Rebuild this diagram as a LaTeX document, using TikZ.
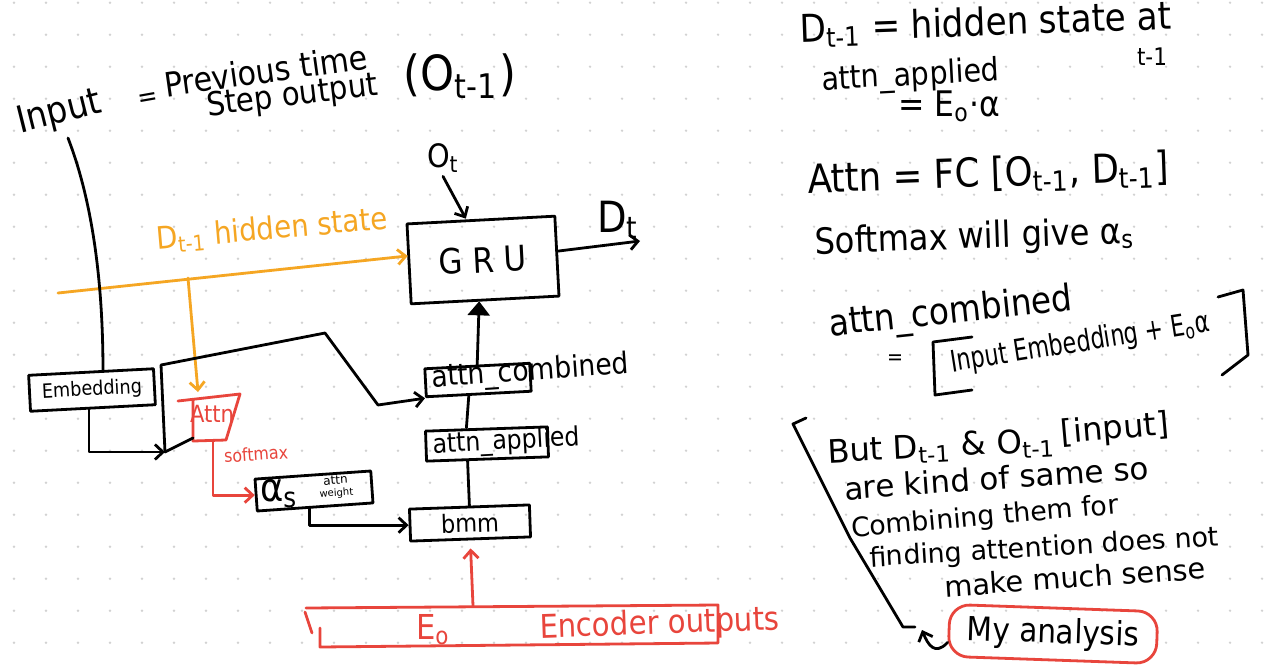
\documentclass[tikz,border=0pt]{standalone}
\usepackage{fontspec}
\setmainfont{DejaVu Sans}
\usepackage{graphicx}
\usetikzlibrary{arrows.meta,calc}
\definecolor{hred}{HTML}{E8453C}
\definecolor{horange}{HTML}{F5A623}
\definecolor{dotc}{HTML}{D2D2D2}
\newcommand\fw[2]{\resizebox{#1pt}{!}{\scalebox{1}[1.12]{#2}}}
\newcommand\fwn[2]{\resizebox{#1pt}{!}{#2}}
\newcommand\fwt[2]{\resizebox{#1pt}{!}{\scalebox{1}[1.35]{#2}}}
\tikzset{
  ink/.style={line width=2.8pt, line cap=round, line join=round},
  tip/.style={-{Straight Barb[length=8pt,width=15pt]}},
  box/.style={draw, ink, inner sep=0pt},
  txt/.style={inner sep=0pt, outer sep=0pt},
  bt/.style={txt, anchor=base west},
}
\begin{document}
\begin{tikzpicture}[x=1pt,y=-1pt]
\useasboundingbox (0,0) rectangle (1265,667);
\fill[white] (0,0) rectangle (1265,667);
\foreach \i in {0,...,39}{\foreach \j in {0,...,20}{\fill[dotc] ({14+32*\i},{2.7+32*\j}) circle (1.3pt);}}

% ---------- top-left caption ----------
\node[bt, rotate=14] (inp) at (20,133) {\fw{86}{Input}};
\node[txt, rotate=10] (eq1) at (148,100) {\fw{20}{=}};
\node[bt, rotate=8] (prev) at (166,97) {\fw{205}{Previous time}};
\node[bt, rotate=7] (stepo) at (208,116) {\fw{172}{Step output}};
\node[txt] (ot1) at (460,76) {\fw{112}{(O\textsubscript{t-1})}};

% ---------- GRU ----------
\node[box, minimum width=148pt, minimum height=80pt, rotate=3] (gru) at (483,260) {\fw{88}{G R U}};
\node[txt] (ot) at (443,158) {\fw{32}{O\textsubscript{t}}};
\node[txt] (dtl) at (618,220) {\fw{42}{D\textsubscript{t}}};
\coordinate (dtE) at (640,241);
\draw[ink, tip] ([yshift=-4pt]ot.south) -- ([xshift=-15pt]gru.north);
\draw[ink, tip] ([yshift=5pt]gru.east) -- (dtE);

% ---------- orange hidden state ----------
\node[txt, text=horange, rotate=5] (dt1) at (272,230) {\fw{232}{D\textsubscript{t-1} hidden state}};
\coordinate (orS) at (58,293);
\coordinate (orJ) at (188,278);
\coordinate (attnT) at (198,392);
\draw[ink, horange, tip] (orS) -- ([yshift=8pt]gru.west);
\draw[ink, horange, tip] (orJ) -- (attnT);

% ---------- Embedding ----------
\node[box, minimum width=125pt, minimum height=36pt, rotate=3] (emb) at (92,390) {\fw{100}{Embedding}};
\coordinate (inpB) at (68,138);
\draw[ink] (inpB) .. controls (92,200) and (103,280) .. ([xshift=12pt]emb.north);

% ---------- Attn ----------
\draw[ink, hred] (178,401) -- (240,394) -- (226,440) -- (193,441) -- (193,401);
\node[txt, text=hred] (attn) at (212,414) {\fw{44}{Attn}};
\coordinate (attnB) at (213,441);
\coordinate (attnL) at (193,438);
\node[txt, text=hred, rotate=4] (smx) at (256,454) {\fw{64}{softmax}};

% ---------- alpha ----------
\node[box, minimum width=116pt, minimum height=32pt, rotate=4] (alph) at (314,491) {};
\node[txt] (alphs) at (279,494) {\fw{38}{α\textsubscript{s}}};
\node[txt, align=center, rotate=4] (aw) at (336,487) {\fontsize{12}{11}\selectfont attn\\weight};
\draw[ink, hred, tip] (attnB) |- (alph.west);

% ---------- bmm / applied / combined ----------
\node[box, minimum width=120pt, minimum height=32pt, rotate=2] (bmm) at (470,523) {\fw{58}{bmm}};
\node[box, minimum width=122pt, minimum height=30pt, rotate=2] (appl) at (487,444) {};
\node[bt, rotate=3] (applt) at (433,453) {\fw{147}{attn\_applied}};
\node[box, minimum width=105pt, minimum height=28pt, rotate=3] (comb) at (478,380) {};
\node[bt, rotate=4] (combt) at (432,387) {\fw{198}{attn\_combined}};

\draw[ink, tip] ([xshift=-6pt]alph.south) |- (bmm.west);
\draw[ink] (bmm.north) -- ([xshift=-20pt]appl.south);
\draw[ink] ([xshift=-20pt]appl.north) -- ([xshift=-10pt]comb.south);
\draw[ink, -{Triangle[length=14pt, width=22pt]}] (comb.north) -- ([xshift=-6pt]gru.south);

% embedding -> junction -> attn / combined
\coordinate (jA) at (165,452);
\coordinate (k1) at (161,365);
\coordinate (k2) at (325,333);
\coordinate (k3) at (378,405);
\draw[ink, tip] ([xshift=-4pt]emb.south) |- (jA);
\draw[ink] (jA) -- (attnL);
\draw[ink, tip] (jA) -- (k1) -- (k2) -- (k3) -- (comb.south west);

% ---------- Encoder ----------
\node[txt, minimum width=410pt, minimum height=38pt] (enc) at (515,625) {};
\draw[ink, hred] (306,608) -- (718,605) -- (718,643) -- (320,647) -- (320,628);
\draw[ink, hred] (305,612) -- (312,633);
\node[txt, text=hred] (eo) at (433,630) {\fw{34}{E\textsubscript{o}}};
\node[bt, text=hred, rotate=2] (enct) at (540,638) {\fw{240}{Encoder outputs}};
\draw[ink, hred, tip] ([xshift=-42pt]enc.north) -- ([yshift=-8pt]bmm.south);

% ---------- right notes ----------
\node[bt, rotate=2] (r1) at (800,42) {\fw{372}{D\textsubscript{t-1} = hidden state at}};
\node[txt] (r1b) at (1152,57) {\fw{30}{t-1}};
\node[bt, rotate=3] (r2) at (822,90) {\fw{178}{attn\_applied}};
\node[bt] (r3) at (898,116) {\fw{102}{= E\textsubscript{o}·α}};
\node[bt, rotate=2] (r4) at (808,193) {\fw{362}{Attn = FC [O\textsubscript{t-1}, D\textsubscript{t-1}]}};
\node[bt, rotate=2] (r5) at (815,254) {\fw{320}{Softmax will give α\textsubscript{s}}};
\node[bt, rotate=6] (r6) at (830,336) {\fw{245}{attn\_combined}};
\node[txt] (r7eq) at (895,360) {\fw{16}{=}};
\draw[ink] (972,337) -- (933,342) -- (935,395) -- (972,390);
\draw[ink] (1218,297) -- (1243,290) -- (1248,355) -- (1222,375);
\node[bt, rotate=9] (r7) at (952,372) {\fwt{262}{Input Embedding + E\textsubscript{o}α}};

\node[bt, rotate=3] (n1) at (828,463) {\fwn{228}{But D\textsubscript{t-1} \& O\textsubscript{t-1}}};
\node[txt, rotate=5] (n1b) at (1115,430) {\fwn{108}{[input]}};
\node[bt, rotate=4] (n2) at (845,500) {\fwn{305}{are kind of same so}};
\node[bt, rotate=5] (n3) at (852,537) {\fwn{268}{Combining them for}};
\node[bt, rotate=3.5] (n4) at (870,567) {\fwn{350}{finding attention does not}};
\node[bt, rotate=4] (n5) at (945,597) {\fwn{262}{make much sense}};
\draw[ink] (806,418) -- (793,424) -- (850,538) -- (903,627) -- (915,627);

\node[draw=hred, ink, rounded corners=20pt, minimum width=208pt, minimum height=52pt, rotate=-2] (myan) at (1053,634) {\fw{172}{My analysis}};
\coordinate (aTip) at (922,630);
\draw[ink, tip] ([yshift=-12pt]myan.west) .. controls (935,656) and (928,645) .. (aTip);
\end{tikzpicture}
\end{document}
